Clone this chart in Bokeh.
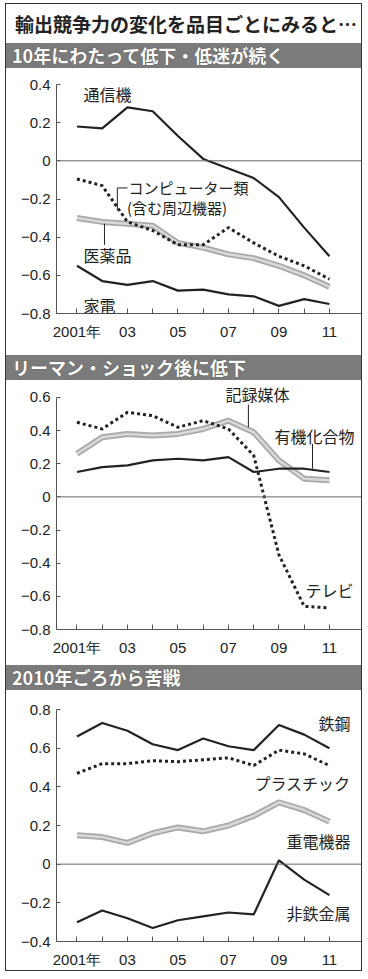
from bokeh.plotting import figure
from bokeh.layouts import column
from bokeh.models import Range1d, FixedTicker, Label, Span, Div
from bokeh.embed import file_html
from bokeh.resources import INLINE

# ---------------- data ----------------
years = list(range(2001, 2012))
year_labels = ["2001年", "", "03", "", "05", "", "07", "", "09", "", "11"]

# panel 1
tsushinki = [0.18, 0.17, 0.28, 0.26, 0.13, 0.01, -0.04, -0.09, -0.19, -0.35, -0.50]
computer = [-0.095, -0.13, -0.32, -0.365, -0.44, -0.44, -0.35, -0.43, -0.50, -0.55, -0.62]
iyakuhin = [-0.30, -0.32, -0.33, -0.34, -0.43, -0.455, -0.49, -0.51, -0.55, -0.60, -0.66]
kaden = [-0.55, -0.63, -0.65, -0.63, -0.68, -0.675, -0.70, -0.71, -0.76, -0.725, -0.75]
# panel 2
yuki = [0.15, 0.18, 0.19, 0.22, 0.23, 0.22, 0.24, 0.15, 0.17, 0.17, 0.15]
kiroku = [0.26, 0.36, 0.38, 0.37, 0.38, 0.41, 0.46, 0.39, 0.22, 0.11, 0.10]
tv = [0.45, 0.41, 0.51, 0.49, 0.42, 0.46, 0.41, 0.25, -0.35, -0.66, -0.67]
# panel 3
tekko = [0.66, 0.73, 0.69, 0.62, 0.59, 0.65, 0.61, 0.59, 0.72, 0.67, 0.60]
plastic = [0.47, 0.52, 0.52, 0.535, 0.53, 0.54, 0.55, 0.51, 0.59, 0.57, 0.51]
juden = [0.15, 0.14, 0.11, 0.16, 0.19, 0.17, 0.20, 0.25, 0.32, 0.28, 0.22]
hitetsu = [-0.30, -0.24, -0.28, -0.33, -0.29, -0.27, -0.25, -0.26, 0.02, -0.08, -0.16]

yticks1 = [-0.8, -0.6, -0.4, -0.2, 0, 0.2, 0.4]
yticks2 = [-0.8, -0.6, -0.4, -0.2, 0, 0.2, 0.4, 0.6]
yticks3 = [-0.4, -0.2, 0, 0.2, 0.4, 0.6, 0.8]

main_title = "輸出競争力の変化を品目ごとにみると…"
headers = ["10年にわたって低下・低迷が続く", "リーマン・ショック後に低下", "2010年ごろから苦戦"]

# ---------------- style ----------------
W = 355
JP = "Noto Sans CJK JP"
NUM = "Liberation Sans"
INK = "#222222"
XS, XE = 2000.19, 2012.27


def make_panel(height, top, bottom, ymin, ymax, yticks, ytop):
    p = figure(width=W, height=height, x_range=Range1d(XS, XE), y_range=Range1d(ymin, ytop),
               output_backend="svg", toolbar_location=None,
               min_border_left=50, min_border_right=0,
               min_border_top=top, min_border_bottom=bottom,
               background_fill_color="white", border_fill_color="white",
               outline_line_color=None)
    p.grid.visible = False
    p.xaxis.ticker = FixedTicker(ticks=years)
    p.xaxis.major_label_overrides = {y: l for y, l in zip(years, year_labels)}
    p.yaxis.ticker = FixedTicker(ticks=yticks)
    p.yaxis.bounds = (ymin, ymax)
    p.yaxis.major_label_overrides = {0: "0"}
    for ax in (p.xaxis[0], p.yaxis[0]):
        ax.axis_line_color = "#555555"
        ax.major_tick_line_color = "#555555"
        ax.major_tick_out = 0
        ax.minor_tick_line_color = None
        ax.major_label_text_font = NUM
        ax.major_label_text_font_size = "15px"
        ax.major_label_text_color = INK
    p.xaxis.major_tick_in = 5
    p.yaxis.major_tick_in = 4
    p.xaxis.major_label_standoff = 9
    p.yaxis.major_label_standoff = 6
    p.add_layout(Span(location=0, dimension="width", line_color="#666666", line_width=1))
    return p


def solid(p, ys):
    p.line(years, ys, line_color=INK, line_width=2.2)


def dotted(p, ys):
    p.line(years, ys, line_color=INK, line_width=3, line_dash="3 3")


def grayline(p, ys):
    p.line(years, ys, line_color="#a8a8a8", line_width=6)
    p.line(years, ys, line_color="#d8d8d8", line_width=2.5)


def label(p, x, y, text, size="16px", align="left"):
    p.add_layout(Label(x=x, y=y, text=text, text_font=JP, text_font_size=size,
                       text_color=INK, text_baseline="middle", text_align=align))


def leader(p, xs, ys):
    p.line(xs, ys, line_color=INK, line_width=1)


def header(text):
    html = ('<div style="display:block;width:%dpx;box-sizing:border-box;background:#7b7b7b;'
            'color:white;height:25px;line-height:25px;'
            'padding-left:6px;white-space:nowrap;font-family:\'Noto Sans CJK JP\';'
            'font-size:18px;font-weight:bold;text-shadow:0 0 1px #333;">' % W + text + '</div>')
    return Div(text=html, width=W, height=25, margin=(0, 0, 0, 0),
               styles={"background": "#7b7b7b"})


title_html = ('<div style="height:39px;line-height:40px;padding-left:9px;white-space:nowrap;'
              'font-family:\'Noto Sans CJK JP\';font-size:19px;font-weight:bold;color:#222;">'
              + main_title + '</div>')
t = Div(text=title_html, width=W, height=39, margin=(0, 0, 0, 0))

# panel 1
p1 = make_panel(287, 16, 42, -0.8, 0.4, yticks1, 0.4)
grayline(p1, iyakuhin)
dotted(p1, computer)
solid(p1, tsushinki)
solid(p1, kaden)
label(p1, 2001.26, 0.35, "通信機")
label(p1, 2003.04, -0.142, "コンピューター類", size="15px")
label(p1, 2002.98, -0.247, "(含む周辺機器)", size="15px")
leader(p1, [2003.0, 2002.6, 2002.6], [-0.142, -0.142, -0.26])
label(p1, 2001.26, -0.495, "医薬品")
leader(p1, [2002.09, 2002.09], [-0.33, -0.44])
label(p1, 2001.26, -0.758, "家電")

# panel 2
p2 = make_panel(285, 7, 36, -0.8, 0.6, yticks2, 0.66)
grayline(p2, kiroku)
dotted(p2, tv)
solid(p2, yuki)
label(p2, 2006.88, 0.618, "記録媒体")
leader(p2, [2007.79, 2007.79], [0.557, 0.42])
label(p2, 2008.82, 0.37, "有機化合物")
leader(p2, [2010.33, 2010.33], [0.32, 0.17])
label(p2, 2010.05, -0.56, "テレビ")

# panel 3
p3 = make_panel(280, 19, 29, -0.4, 0.8, yticks3, 0.8)
grayline(p3, juden)
dotted(p3, plastic)
solid(p3, tekko)
solid(p3, hitetsu)
label(p3, 2011.83, 0.73, "鉄鋼", align="right")
label(p3, 2011.83, 0.42, "プラスチック", align="right")
label(p3, 2011.83, 0.12, "重電機器", align="right")
label(p3, 2011.83, -0.255, "非鉄金属", align="right")

layout = column(t, header(headers[0]), p1, header(headers[1]), p2, header(headers[2]), p3,
                spacing=0, margin=(3, 0, 0, 5),
                styles={"border": "1px solid #333333", "background": "white"})

open("out.html", "w").write(file_html(layout, INLINE))
